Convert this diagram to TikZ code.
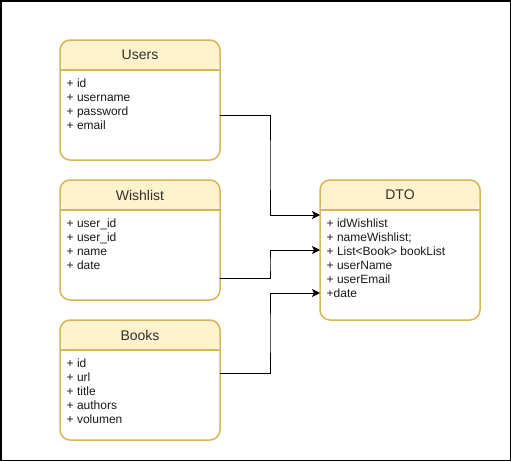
\documentclass[tikz,border=0pt]{standalone}
\usepackage{fontspec}
\setmainfont{Liberation Sans}
\usetikzlibrary{arrows.meta,calc}
\definecolor{boxline}{HTML}{D6B656}
\definecolor{boxhead}{HTML}{FFF2CC}
\definecolor{txt}{HTML}{1A1A1A}
\begin{document}
\begin{tikzpicture}[x=1pt,y=-1pt,
  entity/.style={draw=boxline, line width=1.5pt, rounded corners=10pt, fill=white,
    minimum width=160pt, inner sep=0pt, outer sep=0pt,
    path picture={
      \fill[boxhead] (path picture bounding box.north west) rectangle ([yshift=-30pt]path picture bounding box.north east);
      \draw[boxline, line width=1.5pt] ([yshift=-30pt]path picture bounding box.north west) -- ([yshift=-30pt]path picture bounding box.north east);
    }},
  title/.style={font=\fontsize{14pt}{16pt}\selectfont, text=txt!90, inner sep=0pt},
  field/.style={font=\fontsize{12pt}{14pt}\selectfont, text=txt, anchor=base west, inner sep=0pt},
  conn/.style={draw=black, line width=1pt, -{Classical TikZ Rightarrow[length=0pt]}},
  arr/.style={draw=black, line width=1pt, -{Stealth[length=8pt,width=8pt,inset=2pt]}}
]
\useasboundingbox (0,0) rectangle (511,461);
\draw[line width=1.5pt] (0.75,0.75) rectangle (510.25,460.25);

% boxes
\node[entity, minimum height=120pt] (users) at (140,100) {};
\node[entity, minimum height=120pt] (wish) at (140,240) {};
\node[entity, minimum height=120pt] (books) at (140,380) {};
\node[entity, minimum height=140pt] (dto) at (400,250) {};

% titles
\node[title] (usersT) at (140,55) {Users};
\node[title] (wishT) at (140,195) {Wishlist};
\node[title] (booksT) at (140,335) {Books};
\node[title] (dtoT) at (400,195) {DTO};

% fields
\node[field] (u1) at (66.5,87) {+ id};
\node[field] (u2) at (66.5,101) {+ username};
\node[field] (u3) at (66.5,115) {+ password};
\node[field] (u4) at (66.5,129) {+ email};

\node[field] (w1) at (66.5,227) {+ user\_id};
\node[field] (w2) at (66.5,241) {+ user\_id};
\node[field] (w3) at (66.5,255) {+ name};
\node[field] (w4) at (66.5,269) {+ date};

\node[field] (b1) at (66.5,367) {+ id};
\node[field] (b2) at (66.5,381) {+ url};
\node[field] (b3) at (66.5,395) {+ title};
\node[field] (b4) at (66.5,409) {+ authors};
\node[field] (b5) at (66.5,423) {+ volumen};

\node[field] (d1) at (326.5,227) {+ idWishlist};
\node[field] (d2) at (326.5,241) {+ nameWishlist;};
\node[field] (d3) at (326.5,255) {+ List<Book> bookList};
\node[field] (d4) at (326.5,269) {+ userName};
\node[field] (d5) at (326.5,283) {+ userEmail};
\node[field] (d6) at (326.5,297) {+date};

% connectors
\coordinate (us) at ($(users.north east)+(0,75)$);
\coordinate (ws) at ($(wish.north east)+(0,98)$);
\coordinate (bs) at ($(books.north east)+(0,53)$);
\coordinate (dt1) at ($(dto.north west)+(0,35)$);
\coordinate (dt2) at ($(dto.north west)+(0,70)$);
\coordinate (dt3) at ($(dto.north west)+(0,113)$);

\draw[arr] (us) -| ($(us)!0.5!(dt1)$) |- (dt1);
\draw[arr] (ws) -| ($(ws)!0.5!(dt2)$) |- (dt2);
\draw[arr] (bs) -| ($(bs)!0.5!(dt3)$) |- (dt3);
\end{tikzpicture}
\end{document}
